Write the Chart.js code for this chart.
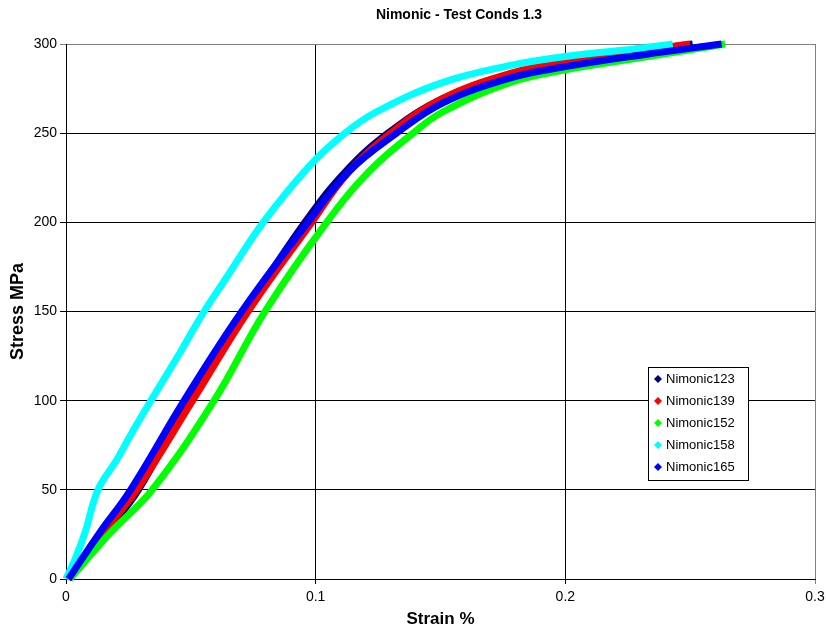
<!DOCTYPE html>
<html lang="en">
<head>
  <meta charset="UTF-8">
  <title>Nimonic - Test Conds 1.3</title>
  <script src="https://cdn.jsdelivr.net/npm/chart.js"></script>
  <style>
    body { margin: 0; background: #fff; }
    #wrap { width: 826px; height: 633px; position: relative; }
  </style>
</head>
<body>
  <div id="wrap"><canvas id="stressChart"></canvas></div>

  <script>
    // Series: [strain %, stress MPa]
    const seriesNames = ['Nimonic123', 'Nimonic139', 'Nimonic152', 'Nimonic158', 'Nimonic165'];
    const seriesColors = ['#000080', '#ff0000', '#00ff00', '#00ffff', '#0000ff'];

    const nimonic123 = [[0.0008,0],[0.0158,26],[0.029,50],[0.0489,100],[0.0717,150],[0.0957,200],[0.1117,228],[0.129,250],[0.151,269.5],[0.178,283],[0.2,289.5],[0.2311,296],[0.251,300]];
    const nimonic139 = [[0.001,0],[0.0148,26],[0.0283,50],[0.0507,100],[0.0729,150],[0.0984,200],[0.1125,227],[0.13,250],[0.151,269.5],[0.178,283.5],[0.2,289.8],[0.2311,296.3],[0.25,300]];
    const nimonic152 = [[0.0015,0],[0.0178,26],[0.0345,50],[0.0593,100],[0.0797,150],[0.1044,200],[0.1217,229],[0.139,250],[0.151,262],[0.178,278.5],[0.2,285.5],[0.2311,292.5],[0.264,300]];
    const nimonic158 = [[0,0],[0.0036,11],[0.0076,26],[0.0128,50],[0.0204,67],[0.0264,82],[0.034,100],[0.0461,128],[0.0553,150],[0.0645,169.5],[0.079,200],[0.0977,232],[0.1117,250],[0.1244,262],[0.151,278.5],[0.178,288],[0.2,293],[0.2311,297.8],[0.243,300]];
    const nimonic165 = [[0.001,0],[0.0135,26],[0.0259,50],[0.0473,100],[0.0704,150],[0.0969,200],[0.1137,229],[0.1324,250],[0.151,267],[0.178,281],[0.2,287.3],[0.2311,294],[0.2626,300]];

    const allSeries = [nimonic123, nimonic139, nimonic152, nimonic158, nimonic165];

    const xTicks = [0, 0.1, 0.2, 0.3];
    const yTicks = [0, 50, 100, 150, 200, 250, 300];

    const font = '"Liberation Sans", Arial, sans-serif';

    // legend box + chart title drawn on the canvas
    const legendAndTitle = {
      id: 'legendAndTitle',
      afterDraw(chart) {
        const ctx = chart.ctx;
        ctx.save();
        ctx.fillStyle = '#000';
        ctx.font = 'bold 14px ' + font;
        ctx.textAlign = 'center';
        ctx.textBaseline = 'middle';
        ctx.fillText('Nimonic - Test Conds 1.3', 459, 15);

        const bx = 648, by = 367, bw = 100, bh = 113;
        ctx.fillStyle = '#fff';
        ctx.fillRect(bx, by, bw, bh);
        ctx.strokeStyle = '#000';
        ctx.lineWidth = 1;
        ctx.strokeRect(bx + 0.5, by + 0.5, bw, bh);

        ctx.font = '13px ' + font;
        ctx.textAlign = 'left';
        seriesNames.forEach((name, i) => {
          const y = by + 12 + i * 22;
          const mx = 658;
          ctx.fillStyle = seriesColors[i];
          ctx.beginPath();
          ctx.moveTo(mx, y - 4);
          ctx.lineTo(mx + 4, y);
          ctx.lineTo(mx, y + 4);
          ctx.lineTo(mx - 4, y);
          ctx.closePath();
          ctx.fill();
          ctx.fillStyle = '#000';
          ctx.fillText(name, 666, y);
        });
        ctx.restore();
      }
    };

    const datasets = allSeries.map((s, i) => ({
      label: seriesNames[i],
      data: s.map(p => ({ x: p[0], y: p[1] })),
      showLine: true,
      borderColor: seriesColors[i],
      backgroundColor: seriesColors[i],
      borderWidth: 7,
      pointRadius: 0,
      tension: 0.4,
      clip: 8,
      order: [5, 4, 3, 2, 1][i]
    }));

    new Chart(document.getElementById('stressChart'), {
      type: 'scatter',
      data: { datasets },
      plugins: [legendAndTitle],
      options: {
        responsive: true,
        maintainAspectRatio: false,
        animation: false,
        layout: { padding: { left: 0, right: 11, top: 44, bottom: 0 } },
        plugins: {
          legend: { display: false },
          tooltip: { enabled: false }
        },
        scales: {
          x: {
            type: 'linear',
            min: 0,
            max: 0.3,
            afterFit(scale) {
              scale.height = 54;
              scale.paddingLeft = 0;
              scale.paddingRight = 0;
            },
            afterBuildTicks(scale) { scale.ticks = xTicks.map(v => ({ value: v })); },
            ticks: {
              color: '#000',
              font: { family: font, size: 14 },
              padding: 5,
              maxRotation: 0,
              callback: v => String(Number(v.toFixed(1)))
            },
            grid: {
              color: ctx => ctx.tick && ctx.tick.value >= 0.3 ? '#808080' : '#000',
              tickLength: 5,
              lineWidth: 1
            },
            border: { color: '#000', width: 1 },
            title: {
              display: true,
              text: 'Strain %',
              color: '#000',
              font: { family: font, size: 17, weight: 'bold' },
              padding: { top: 0, bottom: 3 }
            }
          },
          y: {
            type: 'linear',
            min: 0,
            max: 300,
            afterFit(scale) {
              scale.width = 66;
              scale.paddingTop = 0;
              scale.paddingBottom = 0;
            },
            afterBuildTicks(scale) { scale.ticks = yTicks.map(v => ({ value: v })); },
            ticks: {
              color: '#000',
              font: { family: font, size: 14 },
              padding: 3
            },
            grid: {
              color: ctx => ctx.tick && ctx.tick.value >= 300 ? '#808080' : '#000',
              tickLength: 6,
              lineWidth: 1
            },
            border: { color: '#000', width: 1 },
            title: {
              display: true,
              text: 'Stress MPa',
              color: '#000',
              font: { family: font, size: 18, weight: 'bold' },
              padding: { top: 7, bottom: 0 }
            }
          }
        }
      }
    });
  </script>
</body>
</html>
